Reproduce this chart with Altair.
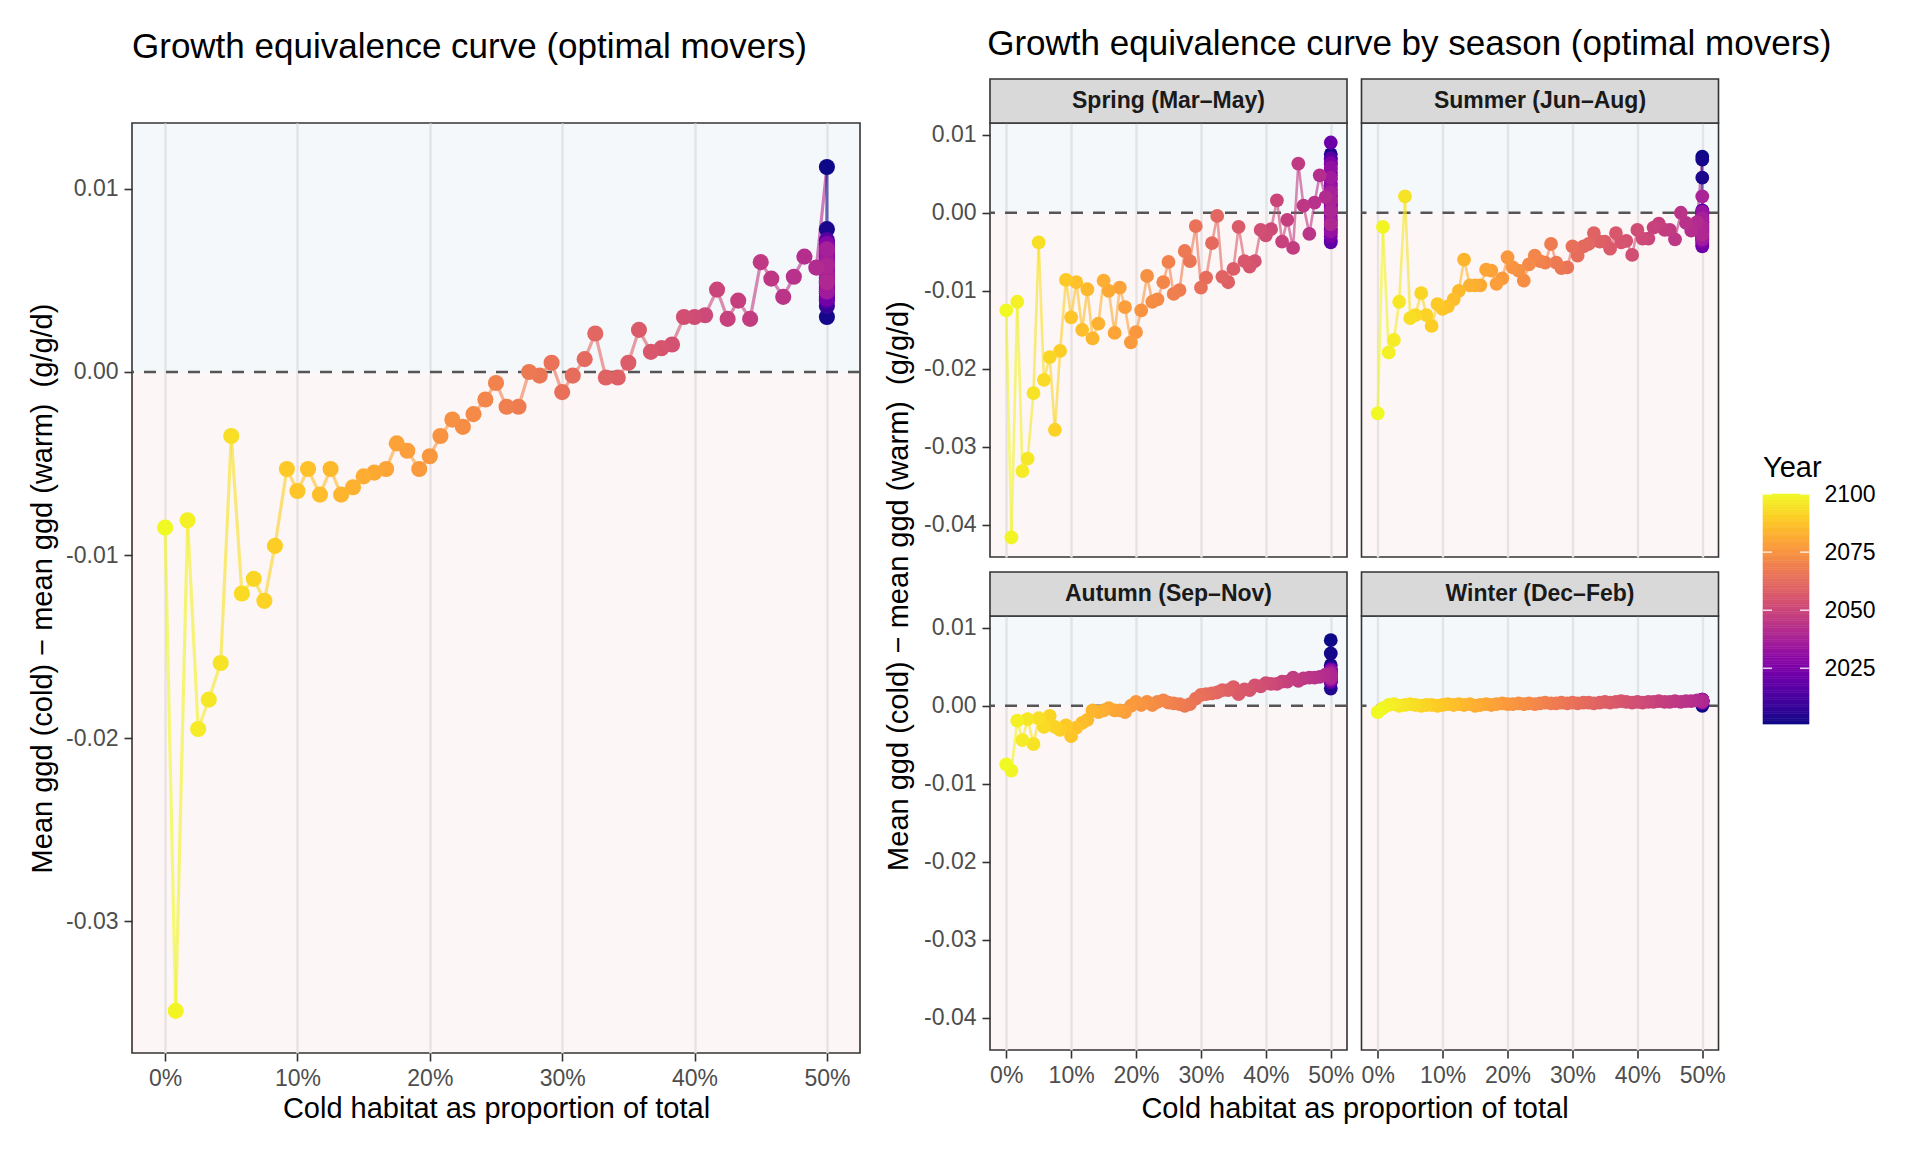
import altair as alt
import pandas as pd

FONT = "Liberation Sans"

# cold-habitat share (%) on the ramp: year 2100 sits at 0 %, year 2041 at 49.2 %
COLD_PCT = [0.0, 0.8, 1.7, 2.5, 3.3, 4.2, 5.0, 5.8, 6.7, 7.5,
            8.3, 9.2, 10.0, 10.8, 11.7, 12.5, 13.3, 14.2, 15.0, 15.8,
            16.7, 17.5, 18.3, 19.2, 20.0, 20.8, 21.7, 22.5, 23.3, 24.2,
            25.0, 25.8, 26.7, 27.5, 28.3, 29.2, 30.0, 30.8, 31.7, 32.5,
            33.3, 34.2, 35.0, 35.8, 36.7, 37.5, 38.3, 39.2, 40.0, 40.8,
            41.7, 42.5, 43.3, 44.2, 45.0, 45.8, 46.7, 47.5, 48.3, 49.2]
YEARS_RAMP = list(range(2100, 2040, -1))
YEARS_CAP = list(range(2001, 2041))      # these years sit at the 50 % cap
CAP_PCT = 50.0

# annual series (ramp values follow COLD_PCT, cap values follow YEARS_CAP)
ANNUAL_RAMP = [-0.0085, -0.0349, -0.0081, -0.0195, -0.0179, -0.0159, -0.0035, -0.0121, -0.0113, -0.0125,
               -0.0095, -0.0053, -0.0065, -0.0053, -0.0067, -0.0053, -0.0067, -0.0063, -0.0057, -0.0055,
               -0.0053, -0.0039, -0.0043, -0.0053, -0.0046, -0.0035, -0.0026, -0.0030, -0.0023, -0.0015,
               -0.0006, -0.0019, -0.0019, 0.0000, -0.0002, 0.0005, -0.0011, -0.0002, 0.0007, 0.0021,
               -0.0003, -0.0003, 0.0005, 0.0023, 0.0011, 0.0013, 0.0015, 0.0030, 0.0030, 0.0031,
               0.0045, 0.0029, 0.0039, 0.0029, 0.0060, 0.0051, 0.0041, 0.0052, 0.0063, 0.0057]
ANNUAL_CAP = [0.0112, 0.0030, 0.0078, 0.0055, 0.0041, 0.0064, 0.0048, 0.0036, 0.0070, 0.0052,
              0.0059, 0.0044, 0.0066, 0.0039, 0.0072, 0.0050, 0.0061, 0.0046, 0.0057, 0.0043,
              0.0068, 0.0053, 0.0040, 0.0063, 0.0049, 0.0058, 0.0045, 0.0070, 0.0054, 0.0047,
              0.0062, 0.0056, 0.0051, 0.0065, 0.0044, 0.0060, 0.0067, 0.0053, 0.0058, 0.0049]

SPRING_RAMP = [-0.0125, -0.0416, -0.0114, -0.0331, -0.0315, -0.0231, -0.0038, -0.0214, -0.0185, -0.0278,
               -0.0177, -0.0086, -0.0134, -0.0089, -0.0150, -0.0098, -0.0161, -0.0142, -0.0087, -0.0100,
               -0.0154, -0.0096, -0.0121, -0.0166, -0.0153, -0.0125, -0.0081, -0.0114, -0.0111, -0.0089,
               -0.0063, -0.0104, -0.0099, -0.0049, -0.0062, -0.0017, -0.0096, -0.0083, -0.0039, -0.0004,
               -0.0082, -0.0089, -0.0072, -0.0018, -0.0062, -0.0069, -0.0062, -0.0022, -0.0029, -0.0021,
               0.0016, -0.0037, -0.0009, -0.0045, 0.0063, 0.0009, -0.0027, 0.0013, 0.0048, 0.0020]
SPRING_CAP = [0.0062, -0.0021, 0.0075, 0.0010, -0.0035, 0.0048, 0.0021, -0.0008, 0.0068, 0.0003,
              0.0035, -0.0026, 0.0056, 0.0015, -0.0013, 0.0070, 0.0029, -0.0038, 0.0043, 0.0008,
              0.0090, -0.0017, 0.0052, 0.0024, -0.0030, 0.0064, 0.0012, -0.0004, 0.0038, 0.0018,
              0.0058, -0.0024, 0.0031, 0.0005, 0.0045, -0.0010, 0.0026, 0.0016, 0.0002, -0.0015]

SUMMER_RAMP = [-0.0257, -0.0018, -0.0179, -0.0163, -0.0114, 0.0021, -0.0135, -0.0131, -0.0103, -0.0131,
               -0.0145, -0.0117, -0.0123, -0.0120, -0.0111, -0.0100, -0.0060, -0.0093, -0.0093, -0.0093,
               -0.0073, -0.0074, -0.0091, -0.0084, -0.0057, -0.0070, -0.0074, -0.0087, -0.0066, -0.0055,
               -0.0062, -0.0064, -0.0040, -0.0064, -0.0071, -0.0070, -0.0043, -0.0055, -0.0043, -0.0040,
               -0.0026, -0.0037, -0.0037, -0.0046, -0.0026, -0.0038, -0.0036, -0.0054, -0.0022, -0.0033,
               -0.0033, -0.0019, -0.0014, -0.0022, -0.0022, -0.0034, 0.0000, -0.0013, -0.0023, -0.0012]
SUMMER_CAP = [0.0072, 0.0068, 0.0045, -0.0012, 0.0002, -0.0025, -0.0008, -0.0035, -0.0018, 0.0000,
              -0.0030, -0.0005, -0.0022, -0.0040, -0.0014, -0.0027, 0.0003, -0.0019, -0.0033, -0.0009,
              -0.0024, -0.0043, -0.0016, -0.0002, -0.0029, -0.0011, -0.0037, -0.0020, -0.0006, -0.0031,
              -0.0015, -0.0026, 0.0001, -0.0021, -0.0034, -0.0012, -0.0007, 0.0021, -0.0018, -0.0028]

AUTUMN_RAMP = [-0.0075, -0.0083, -0.0019, -0.0044, -0.0017, -0.0049, -0.0016, -0.0027, -0.0013, -0.0027,
               -0.0031, -0.0025, -0.0039, -0.0028, -0.0022, -0.0018, -0.0006, -0.0008, -0.0006, -0.0003,
               -0.0006, -0.0006, -0.0008, 0.0000, 0.0005, 0.0001, 0.0005, 0.0001, 0.0005, 0.0007,
               0.0004, 0.0003, 0.0002, 0.0000, 0.0002, 0.0009, 0.0014, 0.0015, 0.0016, 0.0017,
               0.0020, 0.0020, 0.0024, 0.0015, 0.0021, 0.0020, 0.0026, 0.0025, 0.0029, 0.0028,
               0.0028, 0.0031, 0.0031, 0.0036, 0.0032, 0.0035, 0.0036, 0.0036, 0.0037, 0.0040]
AUTUMN_CAP = [0.0084, 0.0067, 0.0052, 0.0022, 0.0038, 0.0045, 0.0031, 0.0041, 0.0035, 0.0043,
              0.0033, 0.0039, 0.0046, 0.0036, 0.0030, 0.0042, 0.0037, 0.0044, 0.0034, 0.0040,
              0.0032, 0.0047, 0.0038, 0.0035, 0.0041, 0.0036, 0.0043, 0.0033, 0.0039, 0.0037,
              0.0045, 0.0034, 0.0040, 0.0036, 0.0042, 0.0038, 0.0035, 0.0041, 0.0039, 0.0037]

WINTER_RAMP = [-0.0008, -0.0003, 0.0001, 0.0002, 0.0000, 0.0001, 0.0002, 0.0001, 0.0000, 0.0001,
               0.0001, 0.0000, 0.0001, 0.0002, 0.0001, 0.0002, 0.0001, 0.0002, 0.0000, 0.0001,
               0.0002, 0.0001, 0.0002, 0.0003, 0.0002, 0.0002, 0.0003, 0.0002, 0.0003, 0.0002,
               0.0003, 0.0004, 0.0003, 0.0003, 0.0004, 0.0003, 0.0004, 0.0003, 0.0004, 0.0004,
               0.0003, 0.0004, 0.0005, 0.0004, 0.0005, 0.0006, 0.0005, 0.0004, 0.0005, 0.0004,
               0.0005, 0.0005, 0.0006, 0.0005, 0.0005, 0.0006, 0.0005, 0.0006, 0.0006, 0.0007]
WINTER_CAP = [0.0000, 0.0002, 0.0004, 0.0006, 0.0005, 0.0007, 0.0003, 0.0006, 0.0005, 0.0007,
              0.0004, 0.0006, 0.0008, 0.0005, 0.0007, 0.0006, 0.0004, 0.0007, 0.0005, 0.0006,
              0.0008, 0.0006, 0.0005, 0.0007, 0.0006, 0.0004, 0.0007, 0.0005, 0.0006, 0.0008,
              0.0006, 0.0007, 0.0005, 0.0006, 0.0007, 0.0006, 0.0005, 0.0007, 0.0006, 0.0007]

SEASONS = ["Spring (Mar–May)", "Summer (Jun–Aug)", "Autumn (Sep–Nov)", "Winter (Dec–Feb)"]

X_TICKS = [0, 10, 20, 30, 40, 50]
MAIN_Y_TICKS = [-0.03, -0.02, -0.01, 0.0, 0.01]
FACET_Y_TICKS = [-0.04, -0.03, -0.02, -0.01, 0.0, 0.01]
MAIN_Y_DOM = [-0.0372, 0.0136]
FACET_Y_DOM = [-0.0441, 0.0115]
YEAR_MIN, YEAR_MAX = 2001, 2100
YEAR_TICKS = [2025, 2050, 2075, 2100]

YLAB = "Mean ggd (cold) − mean ggd (warm)\u00a0 (g/g/d)"
XLAB = "Cold habitat as proportion of total"
Y_FMT = "replace(format(datum.value, '.2f'), '\u2212', '-')"

YEAR_SCALE = alt.Scale(scheme="plasma", domain=[YEAR_MIN, YEAR_MAX])
COLOR = alt.Color("year:Q", scale=YEAR_SCALE, legend=None)


def series_frame(ramp, cap):
    df = pd.DataFrame({
        "year": YEARS_CAP + YEARS_RAMP,
        "pct": [CAP_PCT] * len(YEARS_CAP) + COLD_PCT,
        "diff": cap + ramp,
    })
    return df.sort_values("year").reset_index(drop=True)


def segment_frame(pts):
    # geom_line style: order by x, each piece coloured by its starting point
    s = pts.sort_values("pct", kind="mergesort").reset_index(drop=True)
    s["pct2"] = s["pct"].shift(-1)
    s["diff2"] = s["diff"].shift(-1)
    return s.dropna()


def build_panel(ramp, cap, w, h, y_dom, y_ticks, pt_size, line_w,
                show_x=True, show_y=True, strip=None, xtitle=None, ytitle=None):
    pts = series_frame(ramp, cap)
    seg = segment_frame(pts)
    one = pd.DataFrame({"k": [0]})

    xs = alt.Scale(domain=[-2.5, 52.5], nice=False, zero=False)
    ys = alt.Scale(domain=y_dom, nice=False, zero=False)
    x_kw = dict(values=X_TICKS, labelExpr="datum.value + '%'", labels=show_x, ticks=show_x)
    y_kw = dict(values=y_ticks, labelExpr=Y_FMT, labels=show_y, ticks=show_y)
    if xtitle:
        x_kw.update(title=xtitle, titleY=64, titleBaseline="alphabetic")
    else:
        x_kw.update(title=None)
    if ytitle:
        y_kw.update(title=ytitle, titleX=-81, titleBaseline="alphabetic")
    else:
        y_kw.update(title=None)
    xax = alt.Axis(**x_kw)
    yax = alt.Axis(**y_kw)

    warm = alt.Chart(one).mark_rect(fill="steelblue", opacity=0.06).encode(
        x=alt.value(0), x2=alt.value("width"), y=alt.datum(0.0), y2=alt.datum(y_dom[1]))
    cool = alt.Chart(one).mark_rect(fill="firebrick", opacity=0.04).encode(
        x=alt.value(0), x2=alt.value("width"), y=alt.datum(y_dom[0]), y2=alt.datum(0.0))
    zero = alt.Chart(one).mark_rule(color="#555555", strokeDash=[12, 10], strokeWidth=2.4).encode(
        y=alt.datum(0.0))

    lines = alt.Chart(seg).mark_rule(strokeWidth=line_w, opacity=0.6).encode(
        x=alt.X("pct:Q", scale=xs, axis=xax), x2="pct2:Q",
        y=alt.Y("diff:Q", scale=ys, axis=yax), y2="diff2:Q",
        color=COLOR)
    dots = alt.Chart(pts).mark_circle(size=pt_size, opacity=1).encode(
        x=alt.X("pct:Q", scale=xs, axis=xax),
        y=alt.Y("diff:Q", scale=ys, axis=yax),
        color=COLOR)

    layers = [warm, cool, zero]
    if strip:
        box = alt.Chart(one).mark_rect(fill="#d9d9d9", stroke="#333333", strokeWidth=1.6).encode(
            x=alt.value(0), x2=alt.value("width"), y=alt.value(-44), y2=alt.value(0))
        lab = alt.Chart(one).mark_text(text=strip, font=FONT, fontSize=23, fontWeight="bold",
                                       color="#1a1a1a", baseline="middle").encode(
            x=alt.value(w / 2), y=alt.value(-22))
        layers += [box, lab]
    layers += [lines, dots]
    return alt.layer(*layers).properties(width=w, height=h)


def build_colorbar():
    # ggplot-style colour bar: one slice per year, coloured through the same plasma scale
    years = list(range(YEAR_MIN, YEAR_MAX + 1))
    bar = pd.DataFrame({
        "year": years,
        "lo": [max(y - 0.5, YEAR_MIN) for y in years],
        "hi": [min(y + 0.5, YEAR_MAX) for y in years],
    })
    ticks = pd.DataFrame({"year": YEAR_TICKS})
    # y scale stretched so that the bar occupies only its slot beside the panels
    ys = alt.Scale(domain=[1829.3, 2259.7], nice=False, zero=False)
    yax = alt.Axis(orient="right", values=YEAR_TICKS, format="d", ticks=False, domain=False,
                   grid=False, labelPadding=15, labelColor="black", labelFontSize=23, title=None)
    slices = alt.Chart(bar).mark_rect(strokeWidth=0.6).encode(
        x=alt.value(34), x2=alt.value(80),
        y=alt.Y("lo:Q", scale=ys, axis=yax), y2="hi:Q",
        color=COLOR, stroke=alt.Stroke("year:Q", scale=YEAR_SCALE, legend=None))
    tick_l = alt.Chart(ticks).mark_rule(color="white", strokeWidth=1.5, opacity=0.8).encode(
        x=alt.value(34), x2=alt.value(43), y=alt.Y("year:Q", scale=ys, axis=yax))
    tick_r = alt.Chart(ticks).mark_rule(color="white", strokeWidth=1.5, opacity=0.8).encode(
        x=alt.value(71), x2=alt.value(80), y=alt.Y("year:Q", scale=ys, axis=yax))
    one = pd.DataFrame({"k": [0]})
    head = alt.Chart(one).mark_text(text="Year", font=FONT, fontSize=29, color="black",
                                    align="left", baseline="alphabetic").encode(
        x=alt.value(34), y=alt.value(354))
    return alt.layer(slices, tick_l, tick_r, head).properties(
        width=80, height=1000, view=alt.ViewBackground(stroke="transparent"))


TITLE_KW = dict(font=FONT, fontSize=35, fontWeight="normal", color="black",
                anchor="start", baseline="top")

left = build_panel(ANNUAL_RAMP, ANNUAL_CAP, 728, 930, MAIN_Y_DOM, MAIN_Y_TICKS, 260, 3.2,
                   xtitle=XLAB, ytitle=YLAB).properties(
    title=alt.Title("Growth equivalence curve (optimal movers)", frame="group", offset=58, **TITLE_KW))

PW, PH = 357, 434
spring = build_panel(SPRING_RAMP, SPRING_CAP, PW, PH, FACET_Y_DOM, FACET_Y_TICKS, 190, 2.6,
                     show_x=False, show_y=True, strip=SEASONS[0])
summer = build_panel(SUMMER_RAMP, SUMMER_CAP, PW, PH, FACET_Y_DOM, FACET_Y_TICKS, 190, 2.6,
                     show_x=False, show_y=False, strip=SEASONS[1])
autumn = build_panel(AUTUMN_RAMP, AUTUMN_CAP, PW, PH, FACET_Y_DOM, FACET_Y_TICKS, 190, 2.6,
                     show_x=True, show_y=True, strip=SEASONS[2])
winter = build_panel(WINTER_RAMP, WINTER_CAP, PW, PH, FACET_Y_DOM, FACET_Y_TICKS, 190, 2.6,
                     show_x=True, show_y=False, strip=SEASONS[3])

one = pd.DataFrame({"k": [0]})
no_frame = alt.ViewBackground(stroke="transparent")
ylab_chart = alt.Chart(one).mark_text(text=YLAB, font=FONT, fontSize=29, angle=270,
                                      baseline="alphabetic", align="center", color="black").encode(
    x=alt.value(24), y=alt.value(463)).properties(width=36, height=1000, view=no_frame)
xlab_chart = alt.Chart(one).mark_text(text=XLAB, font=FONT, fontSize=29,
                                      baseline="alphabetic", align="center", color="black").encode(
    x=alt.value(365), y=alt.value(30)).properties(width=730, height=36, view=no_frame)

panels = alt.vconcat(
    alt.hconcat(spring, summer, spacing=10.5),
    alt.hconcat(autumn, winter, spacing=4.5),
    spacing=12,
)
grid = alt.vconcat(panels, xlab_chart, spacing=-11)
right = alt.hconcat(ylab_chart, grid, build_colorbar(), spacing=1).properties(
    title=alt.Title("Growth equivalence curve by season (optimal movers)", dx=104, offset=15, **TITLE_KW))

chart = (
    alt.hconcat(left, right, spacing=21)
    .properties(padding={"left": 19, "top": 19, "right": 0, "bottom": 0}, background="white")
    .configure(font=FONT)
    .configure_view(stroke="#333333", strokeWidth=1.6)
    .configure_axis(
        labelFont=FONT, labelFontSize=23, labelColor="#4d4d4d", labelPadding=6,
        tickColor="#333333", tickSize=8, tickWidth=1.6, domain=False,
        gridColor="#ebebeb", gridWidth=2.4,
        titleFont=FONT, titleFontSize=29, titleFontWeight="normal", titleColor="black",
    )
)

chart.save("out.html", embed_options={"renderer": "svg", "actions": False})
